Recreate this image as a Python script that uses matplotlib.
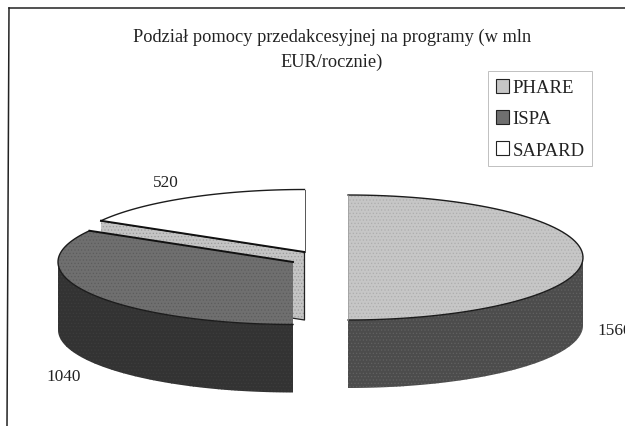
import numpy as np
from matplotlib import pyplot as plt
from matplotlib.patches import Patch, Polygon

# values
programs = ['PHARE', 'ISPA', 'SAPARD']
amounts = [1560, 1040, 520]
title_lines = ['Podział pomocy przedakcesyjnej na programy (w mln', 'EUR/rocznie)']

plt.rcParams['font.family'] = ['Liberation Serif', 'DejaVu Serif']
plt.rcParams['hatch.linewidth'] = 0.5

RX, RY, DEPTH = 235, 62.5, 68
CENTRES = [(348, 258.5), (293, 263), (304.5, 253)]
TOP_COLOURS = ['#c6c6c6', '#6f6f6f', '#ffffff']
SIDE_COLOURS = ['#4c4c4c', '#333333', '#c4c4c4']
GRAIN = ['#adadad', '#5c5c5c', None]
SIDE_GRAIN = ['#626262', '#3d3d3d', None]


def rim(centre, start, end):
    # angles run clockwise from the top of the ellipse
    t = np.radians(np.linspace(start, end, 80))
    return np.column_stack([centre[0] + RX * np.sin(t), centre[1] - RY * np.cos(t)])


def draw_slice(ax, centre, start, end, top, side, grain, side_grain, z):
    front_from, front_to = max(start, 90), min(end, 270)
    if front_from < front_to:
        arc = rim(centre, front_from, front_to)
        lower = arc + [0, DEPTH]
        ax.add_patch(Polygon(np.vstack([arc, lower[::-1]]), closed=True, facecolor=side,
                             edgecolor=side_grain or 'none', hatch='.....' if side_grain else None,
                             linewidth=0, zorder=z))
    outline = np.vstack([[centre], rim(centre, start, end)])
    ax.add_patch(Polygon(outline, closed=True, facecolor=top, edgecolor=grain or 'none',
                         hatch='.....' if grain else None, linewidth=0, zorder=z + 1))
    ax.plot(*rim(centre, start, end).T, color='#1c1c1c', lw=1.0, zorder=z + 2)


fig = plt.figure(figsize=(6.25, 4.27), dpi=100)
ax = fig.add_axes([0, 0, 1, 1])
ax.set_xlim(0, 625)
ax.set_ylim(427, 0)
ax.axis('off')

# chart frame, only left and top survive in the scan
ax.plot([9, 7], [9, 427], color='#222222', lw=1.1)
ax.plot([9, 625], [9, 9], color='#222222', lw=1.1)

angles = np.concatenate([[0], np.cumsum(amounts) / np.sum(amounts) * 360])

# cut face of SAPARD shows between the two dark slices
sap_centre = CENTRES[2]
sap_rim = rim(sap_centre, angles[2], angles[2])[0]
face = np.array([sap_rim, sap_centre, [sap_centre[0], sap_centre[1] + DEPTH], sap_rim + [0, DEPTH]])
ax.add_patch(Polygon(face, closed=True, facecolor='#c4c4c4', edgecolor='#9a9a9a', hatch='.....',
                     linewidth=0, zorder=1))
ax.plot(*face[[0, 1, 2, 3]].T, color='#222222', lw=0.9, zorder=2)

draw_order = [2, 1, 0]
for n, i in enumerate(draw_order):
    draw_slice(ax, CENTRES[i], angles[i], angles[i + 1], TOP_COLOURS[i], SIDE_COLOURS[i],
               GRAIN[i], SIDE_GRAIN[i], 3 + n * 3)

# straight edges that carry a dark line in the reference
ax.plot([sap_centre[0], sap_rim[0]], [sap_centre[1], sap_rim[1]], color='#111111', lw=1.4, zorder=6)
ax.plot([sap_centre[0], sap_centre[0]], [sap_centre[1], CENTRES[2][1] - RY], color='#555555', lw=0.7, zorder=6)
isp_centre = CENTRES[1]
isp_rim = rim(isp_centre, angles[2], angles[2])[0]
ax.plot([isp_centre[0], isp_rim[0]], [isp_centre[1], isp_rim[1]], color='#111111', lw=1.4, zorder=9)
ax.plot([CENTRES[0][0], CENTRES[0][0]], [CENTRES[0][1] - RY, CENTRES[0][1] + RY], color='#999999', lw=0.5, zorder=12)

for text, y in zip(title_lines, [37, 62]):
    ax.text(332, y, text, ha='center', va='center', fontsize=13.2, color='#222222')

label_pos = [(597, 331), (46, 377), (153, 183)]
for value, (x, y) in zip(amounts, label_pos):
    ax.text(x, y, str(value), ha='left', va='center', fontsize=12.4, color='#222222', clip_on=True)

handles = [Patch(facecolor=TOP_COLOURS[i], edgecolor='#222222', linewidth=0.8) for i in range(3)]
leg = ax.legend(handles, programs, loc='upper left', bbox_to_anchor=(488 / 625, 1 - 72 / 427),
                borderaxespad=0, frameon=True, fancybox=False, fontsize=13.5, handlelength=0.7,
                handleheight=0.8, handletextpad=0.2, labelspacing=0.72, borderpad=0.4,
                labelcolor='#222222')
leg.get_frame().set_edgecolor('#c0c0c0')
leg.get_frame().set_linewidth(0.7)
leg.get_frame().set_alpha(1)

fig.savefig('out.png', dpi=100)
